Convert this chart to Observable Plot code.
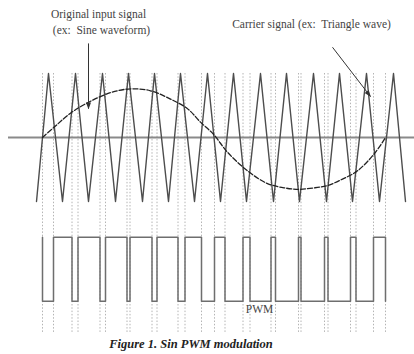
<!DOCTYPE html>
<html>
<head>
<meta charset="utf-8">
<script src="https://cdn.jsdelivr.net/npm/d3@7"></script>
<script src="https://cdn.jsdelivr.net/npm/@observablehq/plot@0.6"></script>
<style>
  html, body { margin: 0; padding: 0; background: #fff; }
  #chart { width: 414px; }
  #caption { width: 414px; height: 20px; line-height: 20px; text-align: center; box-sizing: border-box; padding-right: 32px;
    font-family: "Liberation Serif", serif; font-style: italic; font-weight: bold; font-size: 12.5px; color: #222; }
</style>
</head>
<body>
<div id="chart"></div>
<div id="caption">Figure 1. Sin PWM modulation</div>
<script>
// ---- data ----
// carrier (triangle) vertices: time and level (+1 peak, -1 trough)
const triX = [36, 48, 62, 75, 88, 102, 115, 128, 142, 154, 168, 180, 194, 207, 220, 233, 246, 260, 273, 286, 299, 313, 326, 339, 352, 366, 379, 393, 405];
const triY = [-1, 1, -1, 1, -1, 1, -1, 1, -1, 1, -1, 1, -1, 1, -1, 1, -1, 1, -1, 1, -1, 1, -1, 1, -1, 1, -1, 1, -1];
// original input (sine) signal, sampled points
const sineX = [42, 55, 70, 88, 110, 130, 150, 170, 187, 200, 213, 227, 247, 267, 285, 298, 312, 327, 342, 357, 374, 385];
const sineY = [0, 0.18, 0.38, 0.55, 0.70, 0.76, 0.73, 0.60, 0.45, 0.24, 0.05, -0.23, -0.52, -0.72, -0.79, -0.81, -0.79, -0.75, -0.65, -0.52, -0.25, 0];
// PWM output: switching instants and level after each point (1 high, 0 low)
const pwmX = [42, 42, 53, 71.5, 77.5, 99.5, 105, 126.5, 129.5, 151.5, 156.5, 177.5, 184.5, 201, 214, 224.5, 242.5, 249.5, 270.5, 275, 298, 300.5, 324, 327.5, 350, 355.5, 373, 385];
const pwmLevel = [1, 0, 1, 0, 1, 0, 1, 0, 1, 0, 1, 0, 1, 0, 1, 0, 1, 0, 1, 0, 1, 0, 1, 0, 1, 0, 1, 0];
// intersection instants (dotted guides)
const guideX = [42, 53, 71.5, 77.5, 99.5, 105, 126.5, 129.5, 151.5, 156.5, 177.5, 184.5, 201, 214, 224.5, 242.5, 249.5, 270.5, 275, 298, 300.5, 324, 327.5, 350, 355.5, 373, 385];
// annotation texts
const labels = ["Original input signal", "(ex:  Sine waveform)", "Carrier signal (ex:  Triangle wave)", "PWM"];

// ---- layout ----
const W = 414, H = 334;
const pwmHigh = -1.56, pwmLow = -2.56;
const guideTop = 1.0, guideBottom = -3.05;
const labelPos = [
  {x: 98, y: 1.92}, {x: 101, y: 1.67}, {x: 311, y: 1.77}, {x: 259, y: -2.68}
];
const arrows = [
  {x1: 88, y1: 1.47, x2: 88, y2: 0.45},
  {x1: 332, y1: 1.41, x2: 370, y2: 0.64}
];

const tri = triX.map((x, i) => ({x, y: triY[i]}));
const sine = sineX.map((x, i) => ({x, y: sineY[i]}));
const pwm = pwmX.map((x, i) => ({x, y: pwmLevel[i] ? pwmHigh : pwmLow}));
const texts = labels.map((t, i) => ({text: t, ...labelPos[i]}));

function filledArrow(color, context) {
  const m = d3.select(context.document.createElementNS("http://www.w3.org/2000/svg", "marker"))
    .attr("viewBox", "-5 -5 10 10")
    .attr("markerWidth", 7).attr("markerHeight", 7)
    .attr("markerUnits", "userSpaceOnUse")
    .attr("refX", 4)
    .attr("orient", "auto")
    .attr("fill", color).attr("stroke", "none");
  m.append("path").attr("d", "M-5,-3.6L5,0L-5,3.6Z");
  return m.node();
}

function build(useCustom) {
  const arrowMark = useCustom
    ? Plot.link(arrows, {x1: "x1", y1: "y1", x2: "x2", y2: "y2", stroke: "#333", strokeWidth: 1, markerEnd: filledArrow})
    : Plot.arrow(arrows, {x1: "x1", y1: "y1", x2: "x2", y2: "y2", stroke: "#333", strokeWidth: 1.3, headLength: 7});
  return Plot.plot({
    width: W, height: H,
    marginLeft: 8, marginRight: 0, marginTop: 0, marginBottom: 0,
    x: {domain: [0, W], range: [0, W], axis: null},
    y: {domain: [-1, 1], range: [201, 73], axis: null},
    style: {background: "#fff"},
    marks: [
      Plot.ruleX(guideX, {y1: guideTop, y2: guideBottom, stroke: "#b4b4b4", strokeWidth: 1, strokeDasharray: "1.5,1.8"}),
      Plot.ruleY([0], {stroke: "#8a8a8a", strokeWidth: 2.2}),
      Plot.line(tri, {x: "x", y: "y", stroke: "#4d4d4d", strokeWidth: 1.4}),
      Plot.line(sine, {x: "x", y: "y", stroke: "#222", strokeWidth: 1.3, strokeDasharray: "5,2", curve: "catmull-rom"}),
      Plot.line(pwm, {x: "x", y: "y", stroke: "#6e6e6e", strokeWidth: 1.5, curve: "step-after"}),
      arrowMark,
      Plot.text(texts, {x: "x", y: "y", text: "text", fill: "#444", fontSize: 11.5, fontFamily: "Liberation Serif", textAnchor: "middle"})
    ]
  });
}

let chart;
try { chart = build(true); } catch (e) { chart = build(false); }
document.getElementById("chart").append(chart);
</script>
</body>
</html>
